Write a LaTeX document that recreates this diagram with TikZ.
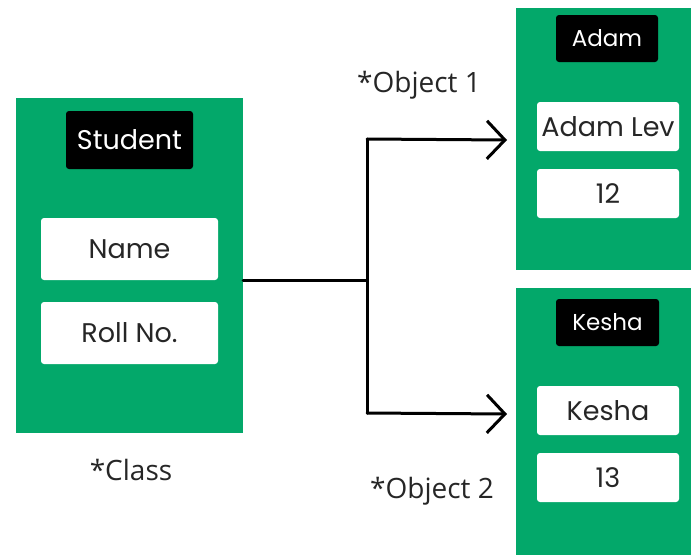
\documentclass[tikz,border=0pt]{standalone}
\usepackage{fontspec}
\setmainfont{Open Sans}
\newfontfamily\boxfont{Poppins}
\usetikzlibrary{arrows.meta}
\definecolor{classgreen}{RGB}{3,168,106}
\tikzset{
  panel/.style={fill=classgreen, draw=none, inner sep=0pt},
  titlebox/.style={fill=black, rounded corners=3pt, text=white, inner sep=0pt,
    font=\boxfont\fontsize{27}{31}\selectfont},
  fieldbox/.style={fill=white, rounded corners=3pt, text=black!85, inner sep=0pt,
    font=\boxfont\fontsize{27}{31}\selectfont},
  caption/.style={text=black!85, inner sep=0pt, font=\fontsize{28}{32}\selectfont},
  link/.style={line width=3pt, black, line cap=round, line join=round},
  arrowhead/.style={-{Straight Barb[length=18pt,width=38pt,line width=3pt]}}
}
\begin{document}
\begin{tikzpicture}[x=1pt,y=-1pt]
\useasboundingbox (0,0) rectangle (691,555);
% class Student
\node[panel, minimum width=227pt, minimum height=335pt] (student) at (129.5,265.5) {};
\node[titlebox, minimum width=127pt, minimum height=58pt] (studentlbl) at (129.5,140) {Student};
\node[fieldbox, minimum width=177pt, minimum height=62pt] (name) at (129.5,249) {Name};
\node[fieldbox, minimum width=177pt, minimum height=62pt] (roll) at (129.5,333) {Roll No.};
\node[caption] (classcap) at (131,470) {*Class};
% object Adam
\node[panel, minimum width=175pt, minimum height=262pt] (adam) at (603.5,139) {};
\node[titlebox, minimum width=102pt, minimum height=47pt, font=\boxfont\fontsize{23}{27}\selectfont] (adamlbl) at (607,38.5) {Adam};
\node[fieldbox, minimum width=142pt, minimum height=49pt] (adamname) at (608,126.5) {Adam Lev};
\node[fieldbox, minimum width=142pt, minimum height=49pt] (adamroll) at (608,193.5) {12};
\node[caption] (obj1) at (419,85) {*Object 1};
% object Kesha
\node[panel, minimum width=175pt, minimum height=267pt] (kesha) at (603.5,421.5) {};
\node[titlebox, minimum width=103pt, minimum height=47pt, font=\boxfont\fontsize{23}{27}\selectfont] (keshalbl) at (607.5,322.5) {Kesha};
\node[fieldbox, minimum width=142pt, minimum height=49pt] (keshaname) at (608,410.5) {Kesha};
\node[fieldbox, minimum width=142pt, minimum height=49pt] (kesharoll) at (608,477.5) {13};
\node[caption] (obj2) at (432,491) {*Object 2};
% connectors
\coordinate (junction) at (367,280);
\coordinate (upper) at (367,139);
\coordinate (lower) at (367,413);
\coordinate (tip1) at (507,140);
\coordinate (tip2) at (507,414);
\draw[link] (junction -| student.east) -- (junction);
\draw[link] (upper) -- (lower);
\draw[link, arrowhead] (upper) -- (tip1);
\draw[link, arrowhead] (lower) -- (tip2);
\end{tikzpicture}
\end{document}
